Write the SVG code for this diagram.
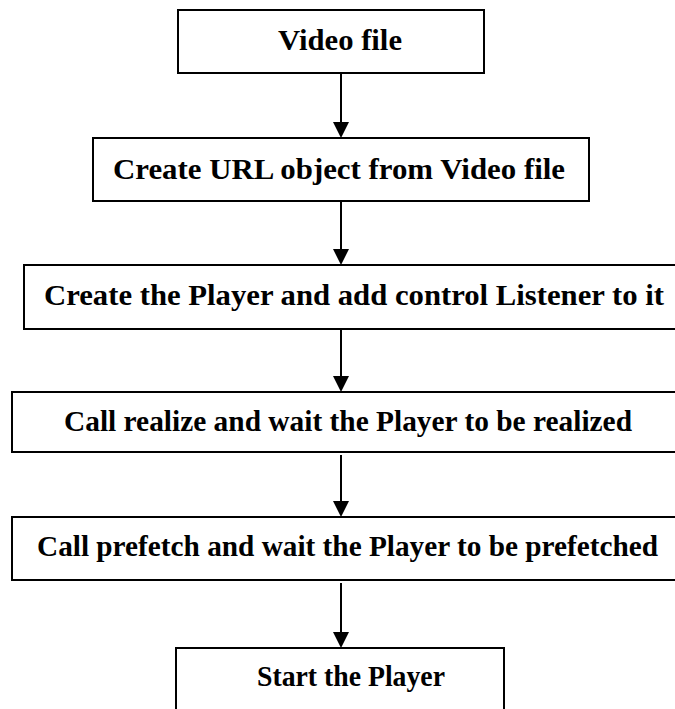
<svg xmlns="http://www.w3.org/2000/svg" width="675" height="709" viewBox="0 0 675 709">
<style>
.box{fill:#fff;stroke:#000;stroke-width:2}
.t{font-weight:bold;font-size:30px;fill:#000}
.c{stroke:#000;stroke-width:2;fill:none}
</style>
<rect width="675" height="709" fill="#fff"/>
<g font-family="Liberation Serif, Times New Roman, DejaVu Serif, serif">
<g id="n1"><rect class="box" x="178" y="10" width="306" height="63"/><text class="t" x="278" y="50" textLength="124" lengthAdjust="spacingAndGlyphs">Video file</text></g>
<g id="n2"><rect class="box" x="93" y="138" width="496" height="63"/><text class="t" x="113" y="179" textLength="452" lengthAdjust="spacingAndGlyphs">Create URL object from Video file</text></g>
<g id="n3"><rect class="box" x="24" y="265" width="660" height="64"/><text class="t" x="44" y="305" textLength="620" lengthAdjust="spacingAndGlyphs">Create the Player and add control Listener to it</text></g>
<g id="n4"><rect class="box" x="12" y="392" width="672" height="60"/><text class="t" x="64" y="431" textLength="568" lengthAdjust="spacingAndGlyphs">Call realize and wait the Player to be realized</text></g>
<g id="n5"><rect class="box" x="12" y="517" width="672" height="63"/><text class="t" x="37" y="556" textLength="621" lengthAdjust="spacingAndGlyphs">Call prefetch and wait the Player to be prefetched</text></g>
<g id="n6"><rect class="box" x="176" y="648" width="328" height="70"/><text class="t" x="257" y="686" textLength="188" lengthAdjust="spacingAndGlyphs">Start the Player</text></g>
</g>
<g id="connectors">
<line class="c" x1="341" y1="74" x2="341" y2="122"/><path d="M333,122 L349,122 L341,138 Z"/>
<line class="c" x1="341" y1="202" x2="341" y2="249"/><path d="M333,249 L349,249 L341,265 Z"/>
<line class="c" x1="341" y1="330" x2="341" y2="376"/><path d="M333,376 L349,376 L341,392 Z"/>
<line class="c" x1="341" y1="455" x2="341" y2="501"/><path d="M333,501 L349,501 L341,517 Z"/>
<line class="c" x1="341" y1="583" x2="341" y2="632"/><path d="M333,632 L349,632 L341,648 Z"/>
</g>
</svg>
